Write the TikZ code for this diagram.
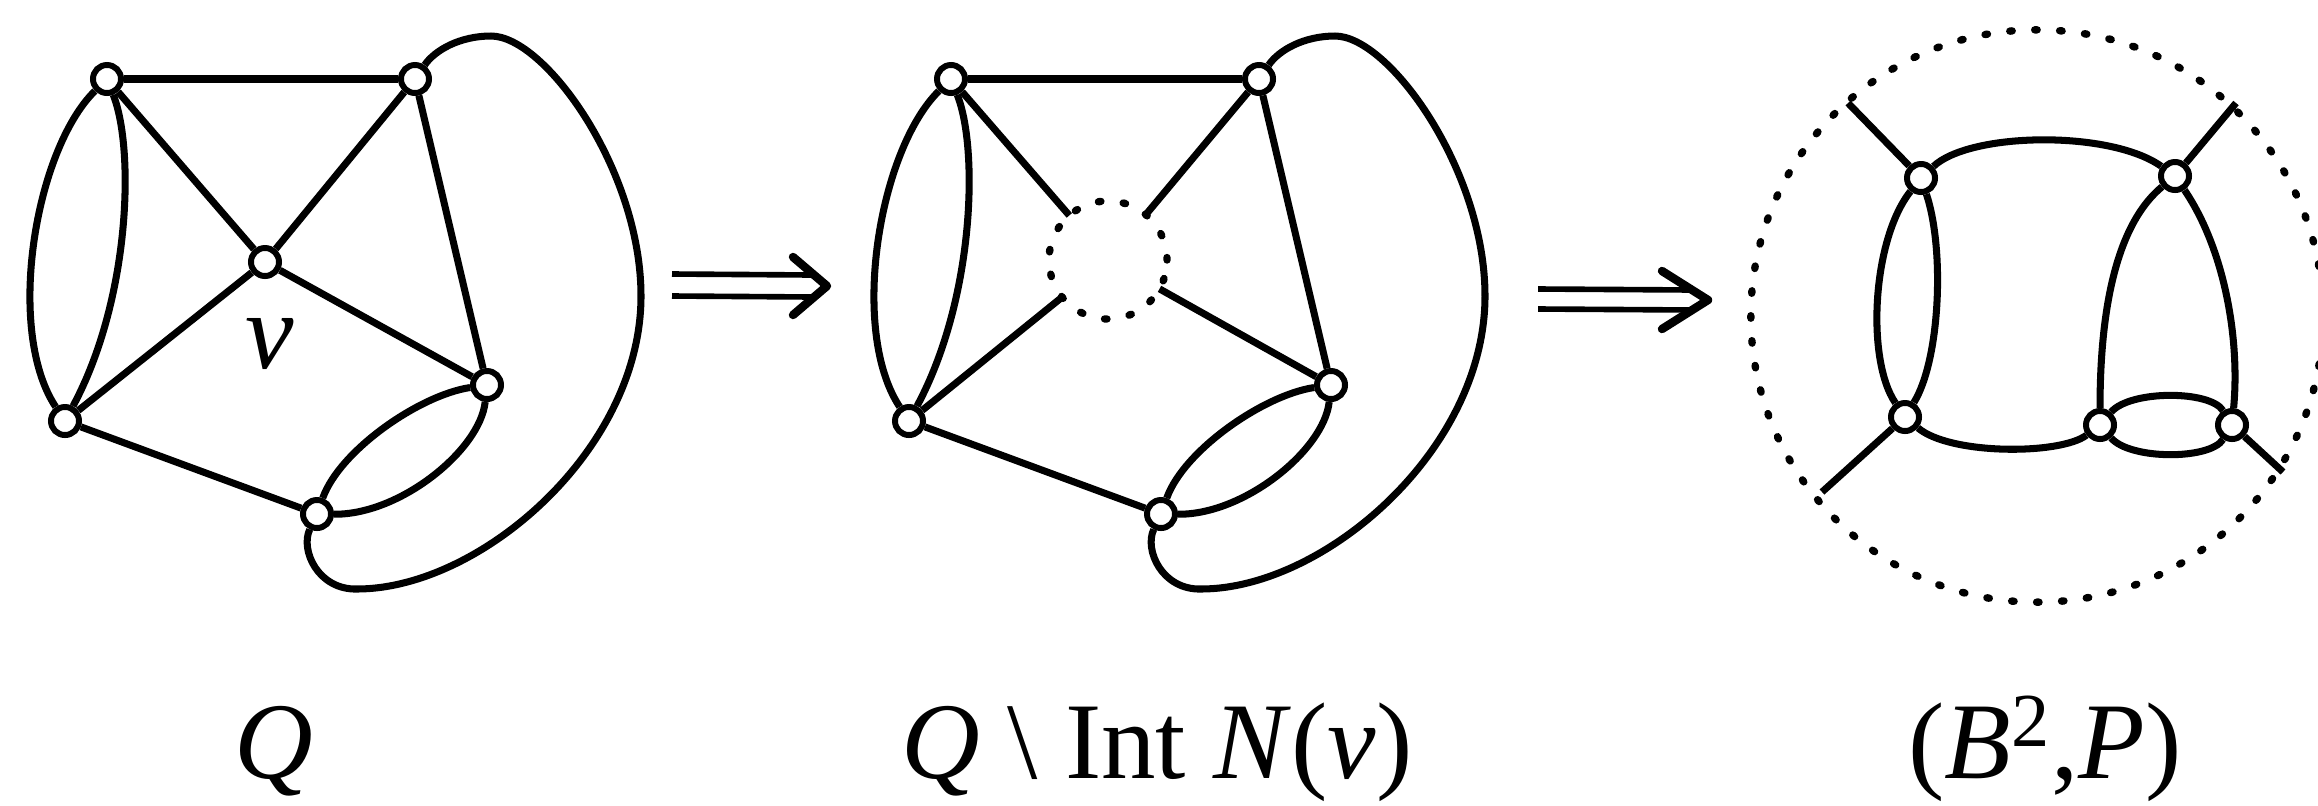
\documentclass[tikz,border=0pt]{standalone}
\usepackage{fontspec}
\setmainfont{Liberation Serif}
\usetikzlibrary{calc}
\begin{document}
\begin{tikzpicture}[x=0.01cm, y=-0.01cm,
  vtx/.style={circle, draw, fill=white, line width=1.7pt, inner sep=0pt, minimum size=0.28cm},
  ln/.style={line width=2pt},
  dotring/.style={circle, draw, line width=2.1pt, line cap=round, dash pattern=on 0.7pt off 6.4pt, inner sep=0pt, outer sep=0pt},
  lbl/.style={font=\fontsize{31}{36}\selectfont, inner sep=0pt},
  dbl/.style={line width=1.6pt},
  chev/.style={line width=2.4pt, line cap=round, line join=round}
]
\useasboundingbox (0,0) rectangle (2318,805);

% ---------- Panel 1 ----------
\node[vtx] (A) at (107,79) {};
\node[vtx] (B) at (415,79) {};
\node[vtx] (V) at (265,262) {};
\node[vtx] (C) at (65,421) {};
\node[vtx] (D) at (487,385) {};
\node[vtx] (E) at (317,514) {};
\node[lbl, font=\fontsize{31}{36}\selectfont\itshape] (vl) at (270,344) {v};

\draw[ln] (A) -- (B);
\draw[ln] (A) -- (V);
\draw[ln] (B) -- (V);
\draw[ln] (C) -- (V);
\draw[ln] (D) -- (V);
\draw[ln] (B) -- (D);
\draw[ln] (C) -- (E);
\draw[ln] (A) .. controls (35,150) and (5,330) .. (C);
\draw[ln] (A) .. controls (135,150) and (130,300) .. (C);
\draw[ln] (E) .. controls (340,450) and (420,395) .. (D);
\draw[ln] (E) .. controls (400,515) and (480,450) .. (D);
\draw[ln] (B) .. controls (435,50) and (460,36) .. (491,36)
  .. controls (545,36) and (641,170) .. (641,296)
  .. controls (641,450) and (480,589) .. (357,589)
  .. controls (318,590) and (300,550) .. (E);

% ---------- Panel 2 ----------
\begin{scope}[shift={(844,0)}]
\node[vtx] (A2) at (107,79) {};
\node[vtx] (B2) at (415,79) {};
\node[dotring, minimum size=1.18cm] (N) at (264,260) {};
\node[vtx] (C2) at (65,421) {};
\node[vtx] (D2) at (487,385) {};
\node[vtx] (E2) at (317,514) {};

\draw[ln] (A2) -- (B2);
\draw[ln] (A2) -- (N);
\draw[ln] (B2) -- (N);
\draw[ln] (C2) -- (N);
\draw[ln] (D2) -- (N);
\draw[ln] (B2) -- (D2);
\draw[ln] (C2) -- (E2);
\draw[ln] (A2) .. controls (35,150) and (5,330) .. (C2);
\draw[ln] (A2) .. controls (135,150) and (130,300) .. (C2);
\draw[ln] (E2) .. controls (340,450) and (420,395) .. (D2);
\draw[ln] (E2) .. controls (400,515) and (480,450) .. (D2);
\draw[ln] (B2) .. controls (435,50) and (460,36) .. (491,36)
  .. controls (545,36) and (641,170) .. (641,296)
  .. controls (641,450) and (480,589) .. (357,589)
  .. controls (318,590) and (300,550) .. (E2);
\end{scope}

% ---------- Panel 3 ----------
\node[dotring, minimum size=5.72cm] (BB) at (2037,316) {};
\node[vtx] (P1) at (1921,178) {};
\node[vtx] (P2) at (2175,176) {};
\node[vtx] (P3) at (1905,417) {};
\node[vtx] (P4) at (2100,425) {};
\node[vtx] (P5) at (2232,425) {};
\coordinate (s1) at (1848,103);
\coordinate (s2) at (2236,103);
\coordinate (s3) at (1822,492);
\coordinate (s5) at (2283,472);

\draw[ln] (P1) -- (s1);
\draw[ln] (P2) -- (s2);
\draw[ln] (P3) -- (s3);
\draw[ln] (P5) -- (s5);
\draw[ln] (P1) .. controls (1970,132) and (2110,130) .. (P2);
\draw[ln] (P3) .. controls (1950,455) and (2060,455) .. (P4);
\draw[ln] (P1) .. controls (1872,240) and (1866,360) .. (P3);
\draw[ln] (P1) .. controls (1945,250) and (1940,360) .. (P3);
\draw[ln] (P2) .. controls (2110,230) and (2100,330) .. (P4);
\draw[ln] (P2) .. controls (2225,250) and (2240,340) .. (P5);
\draw[ln] (P4) .. controls (2130,390) and (2210,390) .. (P5);
\draw[ln] (P4) .. controls (2130,460) and (2210,460) .. (P5);

% ---------- Arrows ----------
\coordinate (r1s) at (672,285);
\coordinate (r1e) at (827,286);
\draw[dbl] ($(r1s)+(0,-11)$) -- ($(r1e)+(-14,-11)$);
\draw[dbl] ($(r1s)+(0,11)$) -- ($(r1e)+(-14,11)$);
\draw[chev] ($(r1e)+(-34,-29)$) -- (r1e) -- ($(r1e)+(-34,29)$);

\coordinate (r2s) at (1538,299);
\coordinate (r2e) at (1708,300);
\draw[dbl] ($(r2s)+(0,-10)$) -- ($(r2e)+(-14,-10)$);
\draw[dbl] ($(r2s)+(0,10)$) -- ($(r2e)+(-14,10)$);
\draw[chev] ($(r2e)+(-46,-29)$) -- (r2e) -- ($(r2e)+(-46,29)$);

% ---------- Labels ----------
\node[lbl, anchor=base] (q1) at (274,778) {\textit{Q}};
\node[lbl, anchor=base] (q2) at (1157,778) {\textit{Q} \textbackslash{} Int \textit{N}(\textit{v})};
\node[lbl, anchor=base] (q3) at (2045,778) {(\textit{B}\textsuperscript{2},\textit{P})};
\end{tikzpicture}
\end{document}
